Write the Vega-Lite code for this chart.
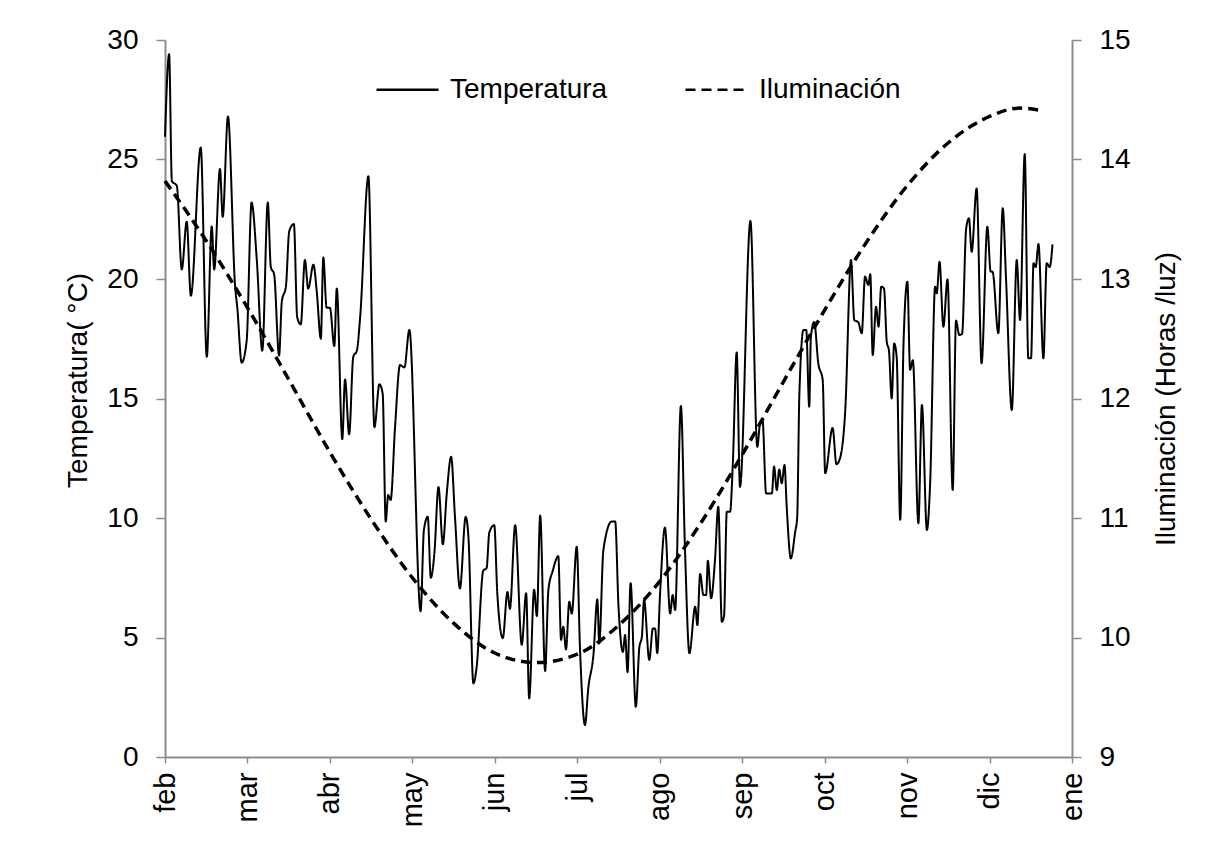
{
  "$schema": "https://vega.github.io/schema/vega-lite/v6.json",
  "width": 907,
  "height": 717,
  "autosize": {"type": "none"},
  "padding": {"left": 165, "top": 40, "right": 134, "bottom": 93},
  "background": "white",
  "config": {
    "view": {"stroke": null},
    "font": "Liberation Sans",
    "axis": {
      "grid": false,
      "domainColor": "#8c8c8c",
      "domainWidth": 2,
      "tickColor": "#8c8c8c",
      "tickWidth": 1.5,
      "labelColor": "#000000",
      "labelFont": "Liberation Sans",
      "labelFontSize": 28,
      "titleFont": "Liberation Sans",
      "titleFontSize": 28,
      "titleFontWeight": "normal",
      "titleColor": "#000000"
    },
    "legend": {
      "labelFont": "Liberation Sans",
      "labelFontSize": 28,
      "labelColor": "#000000"
    }
  },
  "datasets": {
    "temp": [
      {"d":0,"t":25.95},{"d":1.5,"t":29.4},{"d":2.5,"t":24.1},{"d":4.3,"t":23.9},{"d":6.1,"t":20.4},{"d":7.9,"t":22.4},{"d":9.4,"t":19.3},{"d":13,"t":25.5},{"d":15.2,"t":16.75},{"d":17,"t":22.2},{"d":17.9,"t":20.4},{"d":20,"t":24.6},{"d":21,"t":22.6},{"d":22.9,"t":26.8},{"d":25.5,"t":19.7},{"d":26.3,"t":18.8},{"d":27.9,"t":16.5},{"d":29.7,"t":17.4},{"d":31.5,"t":23.2},{"d":33.4,"t":20.8},{"d":35.4,"t":17.0},{"d":37.4,"t":23.2},{"d":38.5,"t":20.5},{"d":39.7,"t":20.2},{"d":41.5,"t":16.8},{"d":42.5,"t":19.05},{"d":44,"t":19.7},{"d":45.2,"t":22.0},{"d":46.9,"t":22.3},{"d":48.1,"t":18.4},{"d":49.4,"t":18.1},{"d":50.9,"t":20.8},{"d":52.1,"t":19.6},{"d":54,"t":20.6},{"d":55.2,"t":19.5},{"d":56.7,"t":17.5},{"d":57.6,"t":20.9},{"d":58.8,"t":18.8},{"d":60,"t":18.8},{"d":61.6,"t":17.2},{"d":62.5,"t":19.6},{"d":64.5,"t":13.3},{"d":65.5,"t":15.8},{"d":67,"t":13.5},{"d":68.5,"t":16.75},{"d":69.8,"t":17.0},{"d":71,"t":18.4},{"d":74,"t":24.3},{"d":76.2,"t":13.8},{"d":78,"t":15.6},{"d":79.2,"t":15.2},{"d":80.3,"t":9.85},{"d":81.2,"t":10.96},{"d":82.1,"t":10.75},{"d":83.7,"t":13.8},{"d":85.5,"t":16.4},{"d":87.1,"t":16.3},{"d":88.9,"t":17.87},{"d":93,"t":6.1},
      {"d":94.2,"t":9.5},{"d":95.6,"t":10.05},{"d":96.7,"t":7.5},{"d":98,"t":8.5},{"d":99.5,"t":11.3},{"d":101.1,"t":8.9},{"d":102.5,"t":11.0},{"d":104.1,"t":12.56},{"d":105.5,"t":10.05},{"d":107.3,"t":7.05},{"d":109.4,"t":10.05},{"d":110.4,"t":9.2},{"d":112.2,"t":3.08},{"d":113.4,"t":3.78},{"d":115.8,"t":7.8},{"d":117,"t":7.9},{"d":118,"t":9.4},{"d":119.8,"t":9.7},{"d":120.9,"t":6.85},{"d":122.9,"t":4.97},{"d":124.6,"t":6.9},{"d":125.5,"t":6.2},{"d":127.4,"t":9.7},{"d":129.8,"t":4.7},{"d":131.4,"t":6.85},{"d":132.5,"t":2.45},{"d":134.3,"t":7.0},{"d":135.3,"t":5.9},{"d":136.5,"t":10.1},{"d":138.3,"t":3.6},{"d":139.5,"t":7.0},{"d":141.1,"t":7.8},{"d":143.1,"t":8.4},{"d":144.1,"t":4.9},{"d":144.9,"t":5.45},{"d":145.9,"t":4.5},{"d":147.1,"t":6.5},{"d":148,"t":6.0},{"d":149.8,"t":8.8},{"d":151,"t":4.5},{"d":152.8,"t":1.34},{"d":154,"t":2.87},{"d":155.9,"t":4.3},{"d":157.3,"t":6.6},{"d":158,"t":4.75},{"d":159.5,"t":8.66},{"d":162.5,"t":9.85},{"d":163.8,"t":9.85},{"d":165,"t":6.3},{"d":166.6,"t":4.4},{"d":167.4,"t":5.1},{"d":168.3,"t":3.55},{"d":169.4,"t":7.27},{"d":171.3,"t":2.1},{"d":172.6,"t":4.6},{"d":173.5,"t":5.03},{"d":174.3,"t":6.57},{"d":176.2,"t":4.06},{"d":177.5,"t":5.38},{"d":178.3,"t":5.38},{"d":179.1,"t":4.34},{"d":180.1,"t":6.78},{"d":181.9,"t":9.6},{"d":183.8,"t":6.0},{"d":184.7,"t":6.78},{"d":185.6,"t":6.15},{"d":187.7,"t":14.69},{"d":189.2,"t":8.66},{"d":190.8,"t":4.34},{"d":192.9,"t":6.29},{"d":193.7,"t":5.52},{"d":194.7,"t":7.66},{"d":195.9,"t":6.78},{"d":196.9,"t":6.78},{"d":197.5,"t":8.21},{"d":198.7,"t":6.64},{"d":200.1,"t":8.24},{"d":201.3,"t":10.47},{"d":202.6,"t":5.66},{"d":203.4,"t":5.9},{"d":204.4,"t":10.26},{"d":205.6,"t":10.26},{"d":206.6,"t":12.29},{"d":208,"t":16.92},{"d":209.2,"t":11.3},{"d":213,"t":22.43},{"d":215.5,"t":12.98},{"d":216.5,"t":13.96},{"d":217.4,"t":14.1},{"d":218.7,"t":11.03},{"d":220.8,"t":11.03},{"d":221.6,"t":12.15},{"d":222.6,"t":11.17},{"d":223.5,"t":12.03},{"d":224.4,"t":11.45},{"d":225.4,"t":12.22},{"d":226.2,"t":10.47},{"d":227.7,"t":8.31},{"d":229.3,"t":9.43},{"d":230,"t":10.0},{"d":230.8,"t":15.15},{"d":232.3,"t":17.87},{"d":233.3,"t":17.87},{"d":234.4,"t":14.66},{"d":235,"t":17.59},{"d":236.2,"t":18.2},{"d":237.7,"t":16.47},{"d":239.3,"t":15.77},{"d":240.2,"t":11.87},{"d":242.9,"t":13.77},{"d":244.3,"t":12.25},{"d":245.6,"t":12.5},{"d":247.5,"t":14.5},{"d":249.6,"t":20.8},{"d":250.8,"t":18.28},{"d":252.2,"t":18.2},{"d":253.5,"t":17.73},{"d":254.7,"t":20.1},{"d":255.9,"t":19.75},{"d":256.6,"t":20.2},{"d":257.5,"t":16.82},{"d":258.7,"t":18.84},{"d":259.6,"t":18.0},{"d":260.6,"t":19.68},{"d":261.6,"t":19.6},{"d":262.6,"t":17.38},{"d":263.4,"t":17.0},{"d":264.4,"t":15.0},{"d":265.3,"t":17.3},{"d":266.2,"t":16.75},{"d":267.5,"t":9.92},{"d":268.7,"t":17.3},{"d":270.1,"t":19.89},{"d":271.1,"t":16.2},{"d":272.1,"t":16.6},{"d":274.1,"t":9.78},{"d":275.4,"t":14.73},{"d":277.2,"t":9.5},{"d":278.4,"t":11.5},{"d":280.2,"t":19.68},{"d":280.8,"t":19.4},{"d":281.8,"t":20.72},{"d":283.2,"t":18.0},{"d":284.7,"t":19.98},{"d":286.6,"t":11.17},{"d":287.8,"t":18.26},{"d":289,"t":17.66},{"d":290,"t":17.7},{"d":291.5,"t":22.12},{"d":292.5,"t":22.54},{"d":293.5,"t":21.14},{"d":295.3,"t":23.79},{"d":297.1,"t":16.47},{"d":299.2,"t":22.19},{"d":300.4,"t":20.31},{"d":301.1,"t":20.3},{"d":303.2,"t":17.73},{"d":304.8,"t":22.96},{"d":306,"t":20.0},{"d":308.1,"t":14.52},{"d":309.9,"t":20.8},{"d":311.1,"t":18.28},{"d":312.8,"t":25.23},{"d":314.1,"t":16.68},{"d":315.1,"t":16.68},{"d":316,"t":20.66},{"d":316.8,"t":20.5},{"d":317.8,"t":21.46},{"d":319.6,"t":16.68},{"d":320.8,"t":20.66},{"d":321.9,"t":20.5},{"d":322.9,"t":21.45}
    ],
    "luz": [
      {"d":0,"h":13.82},{"d":15,"h":13.32},{"d":30,"h":12.76},{"d":45,"h":12.16},{"d":60,"h":11.55},{"d":75,"h":10.99},{"d":90,"h":10.5},{"d":105,"h":10.12},{"d":120,"h":9.87},{"d":135,"h":9.79},{"d":150,"h":9.86},{"d":165,"h":10.1},{"d":180,"h":10.47},{"d":195,"h":10.96},{"d":210,"h":11.53},{"d":225,"h":12.14},{"d":240,"h":12.74},{"d":255,"h":13.3},{"d":270,"h":13.78},{"d":285,"h":14.14},{"d":300,"h":14.36},{"d":311,"h":14.43},{"d":319,"h":14.41}
    ]
  },
  "encoding": {
    "x": {
      "field": "d",
      "type": "quantitative",
      "scale": {"domain": [0, 330], "nice": false, "zero": false},
      "axis": {
        "title": null,
        "values": [0,30,60,90,120,150,180,210,240,270,300,330],
        "labelExpr": "['feb','mar','abr','may','jun','jul','ago','sep','oct','nov','dic','ene'][round(datum.value/30)]",
        "labelAngle": 270,
        "labelAlign": "right",
        "labelBaseline": "middle",
        "labelFontSize": 29,
        "tickSize": 6,
        "labelPadding": 9,
        "labelFlush": false,
        "labelOverlap": false
      }
    }
  },
  "layer": [
    {
      "data": {"name": "temp"},
      "mark": {"type": "line", "color": "#000000", "strokeWidth": 2, "interpolate": "monotone"},
      "encoding": {
        "y": {
          "field": "t",
          "type": "quantitative",
          "scale": {"domain": [0, 30], "nice": false},
          "axis": {
            "title": "Temperatura( °C)",
            "values": [0,5,10,15,20,25,30],
            "tickSize": 9,
            "labelPadding": 18,
            "titlePadding": 14,
            "titleY": 340
          }
        },
        "strokeDash": {
          "datum": "Temperatura",
          "type": "nominal",
          "scale": {"domain": ["Temperatura", "Iluminación"], "range": [[1, 0], [10, 6]]},
          "legend": {
            "orient": "none",
            "legendX": 210,
            "legendY": 17,
            "direction": "horizontal",
            "title": null,
            "symbolType": "stroke",
            "symbolSize": 3844,
            "symbolStrokeColor": "#000000",
            "symbolStrokeWidth": 2.5,
            "labelOffset": 10,
            "labelLimit": 400,
            "columnPadding": 72
          }
        }
      }
    },
    {
      "data": {"name": "luz"},
      "mark": {"type": "line", "color": "#000000", "strokeWidth": 3.5, "interpolate": "monotone"},
      "encoding": {
        "y": {
          "field": "h",
          "type": "quantitative",
          "scale": {"domain": [9, 15], "nice": false, "zero": false},
          "axis": {
            "orient": "right",
            "title": "Iluminación (Horas /luz)",
            "titleAngle": 270,
            "titleBaseline": "top",
            "values": [9,10,11,12,13,14,15],
            "tickSize": 9,
            "labelPadding": 18,
            "titlePadding": 22
          }
        },
        "strokeDash": {"datum": "Iluminación", "type": "nominal"}
      }
    }
  ],
  "resolve": {"scale": {"y": "independent"}}
}
